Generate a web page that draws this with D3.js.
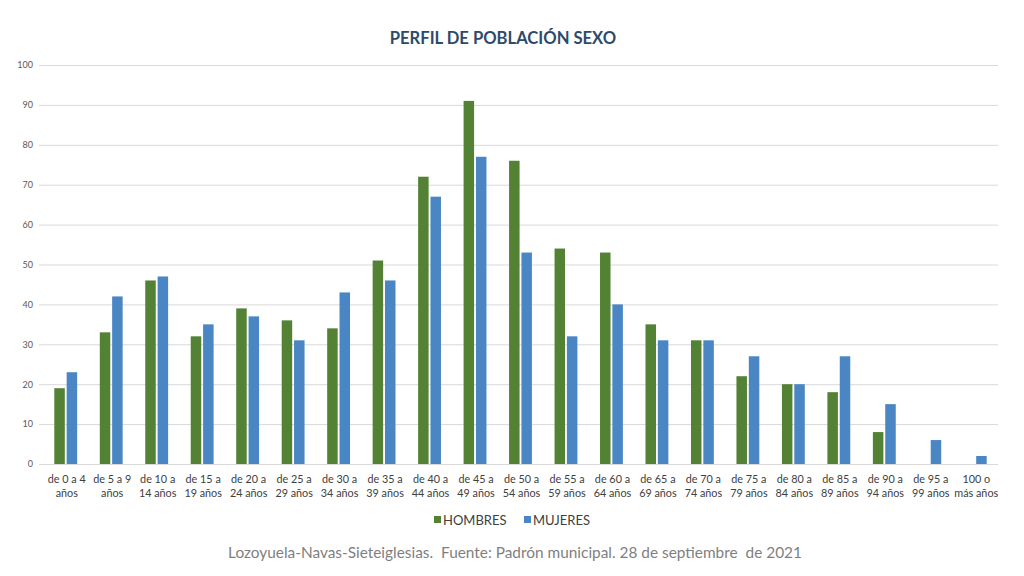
<!DOCTYPE html>
<html>
<head>
<meta charset="utf-8">
<script src="https://cdn.jsdelivr.net/npm/d3@7"></script>
<style>
  body { margin: 0; background: #fff; }
  svg { display: block; font-family: Lato, "Open Sans", sans-serif; }
</style>
</head>
<body>
<div id="chart"></div>
<script>
// --------------------------------------
//  Data
// --------------------------------------

const groups = ["de 0 a 4|años", "de 5 a 9|años", "de 10 a|14 años", "de 15 a|19 años",
  "de 20 a|24 años", "de 25 a|29 años", "de 30 a|34 años", "de 35 a|39 años",
  "de 40 a|44 años", "de 45 a|49 años", "de 50 a|54 años", "de 55 a|59 años",
  "de 60 a|64 años", "de 65 a|69 años", "de 70 a|74 años", "de 75 a|79 años",
  "de 80 a|84 años", "de 85 a|89 años", "de 90 a|94 años", "de 95 a|99 años",
  "100 o|más años"];
const hombres = [19, 33, 46, 32, 39, 36, 34, 51, 72, 91, 76, 54, 53, 35, 31, 22, 20, 18, 8, 0, 0];
const mujeres = [23, 42, 47, 35, 37, 31, 43, 46, 67, 77, 53, 32, 40, 31, 31, 27, 20, 27, 15, 6, 2];
const seriesNames = ["HOMBRES", "MUJERES"];
const yTicks = [0, 10, 20, 30, 40, 50, 60, 70, 80, 90, 100];

// --------------------------------------
//  Canvas
// --------------------------------------

const width = 1024;
const height = 576;
const margin = {top: 65, right: 26, bottom: 112, left: 43};

const svg = d3.select("#chart")
  .append("svg")
    .attr("width", width)
    .attr("height", height)
    .attr("viewBox", `0 0 ${width} ${height}`);

const colors = d3.scaleOrdinal()
  .domain(seriesNames)
  .range(["#548235", "#4a86c4"]);

// --------------------------------------
//  Scales
// --------------------------------------

const x0 = d3.scaleBand()
  .domain(groups)
  .range([margin.left, width - margin.right])
  .padding(0);

const x1 = d3.scaleBand()
  .domain(seriesNames)
  .range([0, x0.bandwidth()])
  .paddingInner(0.15)
  .paddingOuter(0.915);

const y = d3.scaleLinear()
  .domain([0, 100])
  .range([height - margin.bottom, margin.top]);

// --------------------------------------
//  Grid and y axis
// --------------------------------------

svg.append("g")
  .attr("transform", `translate(${margin.left - 4}, 0)`)
  .call(d3.axisLeft(y)
    .tickValues(yTicks)
    .tickSize(-(width - margin.left - margin.right + 4))
    .tickPadding(6))
  .call(g => g.select(".domain").remove())
  .call(g => g.selectAll(".tick line").attr("stroke", "#d9d9d9").attr("stroke-width", 1))
  .call(g => g.selectAll(".tick text")
    .attr("fill", "#595959")
    .attr("font-size", 9)
    .attr("font-family", "Lato, sans-serif"));

// --------------------------------------
//  Bars
// --------------------------------------

const rows = groups.map((g, i) => ({group: g, values: [
  {key: "HOMBRES", value: hombres[i]},
  {key: "MUJERES", value: mujeres[i]}
]}));

svg.append("g")
  .selectAll("g")
  .data(rows)
  .join("g")
    .attr("transform", d => `translate(${x0(d.group)}, 0)`)
  .selectAll("rect")
  .data(d => d.values.filter(v => v.value > 0))
  .join("rect")
    .attr("x", d => x1(d.key))
    .attr("y", d => y(d.value))
    .attr("width", x1.bandwidth())
    .attr("height", d => y(0) - y(d.value))
    .attr("fill", d => colors(d.key));

// --------------------------------------
//  X labels
// --------------------------------------

const xLabels = svg.append("g")
  .selectAll("text")
  .data(groups)
  .join("text")
    .attr("text-anchor", "middle")
    .attr("fill", "#404040")
    .attr("font-size", 10.8);

xLabels.each(function(d) {
  const lines = d.split("|");
  d3.select(this).selectAll("tspan")
    .data(lines)
    .join("tspan")
      .attr("x", x0(d) + x0.bandwidth() / 2 + 1)
      .attr("y", (l, i) => y(0) + 19 + i * 14)
      .text(l => l);
});

// --------------------------------------
//  Title
// --------------------------------------

svg.append("text")
  .attr("x", 503)
  .attr("y", 44)
  .attr("text-anchor", "middle")
  .attr("font-size", 16.6)
  .attr("font-weight", "bold")
  .attr("fill", "#2e4a6b")
  .text("PERFIL DE POBLACIÓN SEXO");

// --------------------------------------
//  Legend
// --------------------------------------

const legend = svg.append("g")
  .attr("transform", "translate(434, 520)");

const legendItems = legend.selectAll("g")
  .data(seriesNames)
  .join("g")
    .attr("transform", (d, i) => `translate(${i * 90}, 0)`);

legendItems.append("rect")
  .attr("x", 0)
  .attr("y", -4)
  .attr("width", 7)
  .attr("height", 7)
  .attr("fill", d => colors(d));

legendItems.append("text")
  .attr("x", 9)
  .attr("y", 4.5)
  .attr("font-size", 13)
  .attr("fill", "#404040")
  .text(d => d);

// --------------------------------------
//  Source note
// --------------------------------------

svg.append("text")
  .attr("x", 515)
  .attr("y", 558)
  .attr("text-anchor", "middle")
  .attr("font-size", 15.4)
  .attr("fill", "#7f7f7f")
  .style("white-space", "pre")
  .text("Lozoyuela-Navas-Sieteiglesias.  Fuente: Padrón municipal. 28 de septiembre  de 2021");
</script>
</body>
</html>
